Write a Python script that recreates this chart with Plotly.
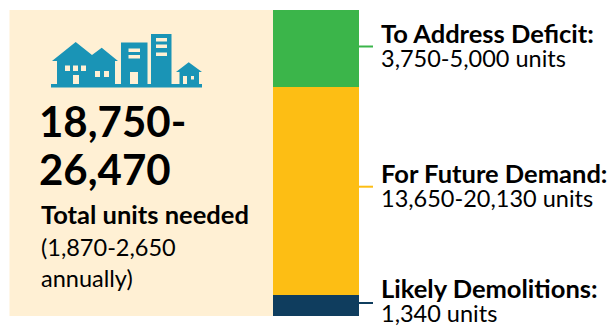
import plotly.graph_objects as go

W, H = 613, 326

# Stacked housing components, bottom to top
categories = ["Likely Demolitions", "For Future Demand", "To Address Deficit"]
units = [1340, 13650, 5000]
colors = ["#0F3D5E", "#FDBE14", "#3BB54A"]
unit_labels = ["1,340 units", "13,650-20,130 units", "3,750-5,000 units"]
heading_labels = ["Likely Demolitions:", "For Future Demand:", "To Address Deficit:"]
total_labels = ["18,750-", "26,470"]
total_caption = "Total units needed"
annual_lines = ["(1,870-2,650", "annually)"]

CREAM = "#FFF0D4"
TEAL = "#1A94B6"
FONT = "Lato"


def px(x):
    return x / W


def py(y):
    return 1 - y / H


def rect(x0, y0, x1, y1, color, layer="above"):
    return dict(type="rect", xref="paper", yref="paper", x0=px(x0), x1=px(x1),
                y0=py(y1), y1=py(y0), fillcolor=color, line_width=0, layer=layer)


def poly(points, color):
    path = "M " + " L ".join(f"{px(a):.5f},{py(b):.5f}" for a, b in points) + " Z"
    return dict(type="path", xref="paper", yref="paper", path=path,
                fillcolor=color, line_width=0, layer="above")


fig = go.Figure()
for name, value, color in zip(categories, units, colors):
    fig.add_bar(x=[0], y=[value], name=name, marker=dict(color=color, line_width=0),
                width=1, hoverinfo="skip")

shapes = [rect(9.5, 10, 273, 316, CREAM, layer="below")]

# Leader lines from the bar to each label
for y, color in zip([303, 186.7, 46.5], colors):
    shapes.append(dict(type="line", xref="paper", yref="paper", x0=px(359), x1=px(373),
                       y0=py(y), y1=py(y), line=dict(color=color, width=2)))

# Skyline icon
shapes += [
    rect(51, 84, 202, 87.5, TEAL),
    poly([(52, 61), (75.7, 42), (92, 55), (101.7, 47.7), (118, 61), (115, 61),
          (115, 84), (57, 84), (57, 61)], TEAL),
    rect(121, 42.5, 147.5, 84, TEAL),
    rect(151, 34, 171.5, 84, TEAL),
    poly([(176, 72), (188.7, 62.3), (202, 72), (199, 72), (199, 84), (179.5, 84), (179.5, 72)], TEAL),
]
for x0, y0, x1, y1 in [
    (65, 65.5, 70, 71), (73, 65.5, 78, 71), (81, 65.5, 86, 71),
    (73, 75, 79, 84), (95, 71, 100, 77), (104, 71, 109, 77),
    (128.5, 48.5, 140, 52), (128.5, 55, 140, 58.5), (130, 72, 138, 84),
    (156, 38, 167, 41.5), (156, 44.5, 167, 48), (156, 52.5, 167, 56),
    (183, 76, 187, 84), (191, 76, 194, 79.5),
]:
    shapes.append(rect(x0, y0, x1, y1, CREAM))


def text(x, y, s, size, bold=False):
    return dict(xref="paper", yref="paper", x=px(x), y=py(y), text=f"<b>{s}</b>" if bold else s,
                showarrow=False, xanchor="left", yanchor="middle", align="left",
                borderpad=0, font=dict(family=FONT, size=size, color="#000000"))


annotations = [
    text(38, 121, total_labels[0], 42, True),
    text(38, 169, total_labels[1], 42, True),
    text(40, 214, total_caption, 25.5, True),
    text(40, 247, annual_lines[0], 23.5),
    text(40, 278, annual_lines[1], 23.5),
]
# Heading and unit share one annotation; the base size sets the tight line spacing
for head, unit, mid_y in zip(heading_labels, unit_labels, [300, 185, 45]):
    combined = (f'<span style="font-size:25.5px"><b>{head}</b></span><br>'
                f'<span style="font-size:23.5px">{unit}</span>')
    annotations.append(text(380, mid_y, combined, 18.5))

fig.update_layout(
    width=W, height=H, barmode="stack", bargap=0, showlegend=False,
    margin=dict(l=0, r=0, t=0, b=0), paper_bgcolor="white", plot_bgcolor="rgba(0,0,0,0)",
    xaxis=dict(domain=[px(273), px(359)], range=[-0.5, 0.5], visible=False, fixedrange=True),
    yaxis=dict(domain=[py(316), py(10)], range=[0, sum(units)], visible=False, fixedrange=True),
    shapes=shapes, annotations=annotations,
)
fig.write_html("out.html", config={"displayModeBar": False})
